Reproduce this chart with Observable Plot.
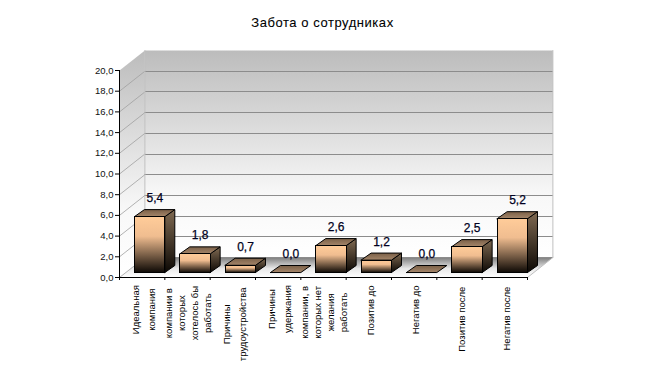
<!DOCTYPE html>
<html><head><meta charset="utf-8">
<script src="https://cdn.jsdelivr.net/npm/d3@7"></script>
<script src="https://cdn.jsdelivr.net/npm/@observablehq/plot@0.6"></script>
<style>
html,body{margin:0;padding:0;background:#fff;}
#title{height:40px;box-sizing:border-box;padding-top:15px;text-align:center;font:13px/16px "Liberation Sans",Arial,sans-serif;letter-spacing:.55px;color:#000;width:645px;-webkit-text-stroke:.08px #000;}
svg{display:block;}
</style></head><body>
<div id="title">Забота о сотрудниках</div>
<div id="chart"></div>
<script>
const categories = [
  "Идеальная\nкомпания",
  "компании в\nкоторых\nхотелось бы\nработать",
  "Причины\nтрудоустройства",
  "Причины\nудержания",
  "компании, в\nкоторых нет\nжелания\nработать",
  "Позитив до",
  "Негатив до",
  "Позитив после",
  "Негатив после"
];
const values = [5.4, 1.8, 0.7, 0.0, 2.6, 1.2, 0.0, 2.5, 5.2];
const yTicks = [0,2,4,6,8,10,12,14,16,18,20];
const fmt = v => v.toFixed(1).replace(".", ",");

// pseudo-3D depth, in scale units
const wallDX = 0.56, wallDY = 1.93;
const barDX = 0.22, barDY = 0.68, barLift = 0.48, barLeft = 0.33;
const n = categories.length, yMax = 20;

const poly = (id, pts) => [...pts, pts[0]].map(([x, y]) => ({id, x, y}));

const backWall = poly("b", [[wallDX,wallDY],[n+wallDX,wallDY],[n+wallDX,yMax+wallDY],[wallDX,yMax+wallDY]]);
const sideWall = poly("s", [[0,0],[wallDX,wallDY],[wallDX,yMax+wallDY],[0,yMax]]);
const floor = poly("f", [[0,0],[n,0],[n+wallDX,wallDY],[wallDX,wallDY]]);
const gridBack = yTicks.slice(1,-1).concat(0).flatMap(t => [{id:t,x:wallDX,y:t+wallDY},{id:t,x:n+wallDX,y:t+wallDY}]);
const gridSide = yTicks.slice(0,-1).flatMap(t => [{id:t,x:0,y:t},{id:t,x:wallDX,y:t+wallDY}]);
const edges = [
  {id:"l",x:wallDX,y:wallDY},{id:"l",x:wallDX,y:yMax+wallDY},
  {id:"r",x:n+wallDX,y:wallDY},{id:"r",x:n+wallDX,y:yMax+wallDY},
  {id:"c",x:n,y:0},{id:"c",x:n+wallDX,y:wallDY}
];

const fronts = [], sides = [], tops = [];
values.forEach((v, i) => {
  const x0 = i + barLeft, x1 = i + 1, y0 = barLift, y1 = barLift + v;
  if (v > 0) {
    fronts.push(...poly(i, [[x0,y0],[x1,y0],[x1,y1],[x0,y1]]));
    sides.push(...poly(i, [[x1,y0],[x1+barDX,y0+barDY],[x1+barDX,y1+barDY],[x1,y1]]));
  }
  tops.push(...poly(i, [[x0,y1],[x1,y1],[x1+barDX,y1+barDY],[x0+barDX,y1+barDY]]));
});

const valueLabels = values.map((v, i) => ({x: i + 0.78, y: v + barLift + barDY + 1.1, t: fmt(v)}));

// block-centred category labels, hanging below the axis
const ctx = document.createElement("canvas").getContext("2d");
const labelFont = 9.5, labelSpacing = 0.8;
ctx.font = `${labelFont}px "Liberation Sans"`;
const unitPx = 207 / yMax;
const labelRows = categories.map((c, i) => {
  const lines = c.split("\n");
  const w = Math.max(...lines.map(s => ctx.measureText(s).width + s.length * labelSpacing));
  return {x: i + 0.5, y: -(4 + w / 2) / unitPx, t: c, rows: lines.length};
});

const font = {fontFamily: '"Liberation Sans",Arial,sans-serif'};
const line = (data, o) => Plot.line(data, {x:"x", y:"y", z:"id", curve:"linear", ...o});

const plot = Plot.plot({
  width: 645, height: 337,
  marginLeft: 119, marginRight: 118, marginTop: 30, marginBottom: 100,
  style: {background: "transparent", ...font},
  x: {type: "linear", domain: [0, n], axis: null},
  y: {type: "linear", domain: [0, yMax], axis: null},
  marks: [
    line(backWall, {fill: "url(#wallGrad)", stroke: "none"}),
    line(sideWall, {fill: "url(#sideGrad)", stroke: "none"}),
    line(floor, {fill: "url(#floorGrad)", stroke: "none"}),
    line(gridBack, {stroke: "#8c8c8c", strokeWidth: 1, shapeRendering: "crispEdges"}),
    line(gridSide, {stroke: "#a0a0a0", strokeWidth: 0.8}),
    line(edges, {stroke: "#c0c0c0", strokeWidth: 1}),
    line(sides, {fill: "url(#sideBar)", stroke: "#000", strokeWidth: 1, strokeLinejoin: "miter"}),
    line(tops, {fill: "url(#topBar)", stroke: "#000", strokeWidth: 1, strokeLinejoin: "miter"}),
    line(fronts, {fill: "url(#frontBar)", stroke: "#000", strokeWidth: 1, strokeLinejoin: "miter", shapeRendering: "crispEdges"}),
    Plot.ruleX([0], {stroke: "#000", strokeWidth: 1}),
    Plot.ruleY([0], {stroke: "#000", strokeWidth: 1}),
    Plot.axisY(yTicks, {anchor: "left", label: null, tickSize: 4, tickPadding: 2, tickFormat: fmt, fontSize: 9.5, stroke: "#000", color: "#111", ...font}),
    Plot.axisX(d3.range(n + 1), {anchor: "bottom", label: null, tickSize: 3, tickFormat: () => "", stroke: "#000"}),
    Plot.text(valueLabels, {x: "x", y: "y", text: "t", fontSize: 12, fill: "#000020", stroke: "#000020", strokeWidth: 0.25, lineAnchor: "middle", ...font}),
    Plot.text(labelRows.filter(d => d.rows <= 2), {x: "x", y: "y", text: "t", rotate: -90, fontSize: labelFont, lineHeight: 1.65, textAnchor: "middle", lineAnchor: "middle", fill: "#000", style: {letterSpacing: labelSpacing + "px"}, ...font}),
    Plot.text(labelRows.filter(d => d.rows > 2), {x: "x", y: "y", text: "t", rotate: -90, fontSize: labelFont, lineHeight: 1.35, textAnchor: "middle", lineAnchor: "middle", fill: "#000", style: {letterSpacing: labelSpacing + "px"}, ...font})
  ]
});

const grads = {
  wallGrad: [["0","#bcbcbc"],["0.7","#f8f8f8"],["1","#ffffff"]],
  sideGrad: [["0","#bcbcbc"],["0.7","#f8f8f8"],["1","#ffffff"]],
  floorGrad: [["0","#7e7e7e"],["0.55","#e8e8e8"],["1","#ffffff"]],
  frontBar: [["0","#ffcc99"],["0.35","#f0bd90"],["1","#0c0804"]],
  sideBar: [["0","#806a52"],["1","#0c0804"]],
  topBar: [["0","#7a6048"],["1","#a5866a"]]
};
const defs = d3.select(plot).insert("defs", ":first-child");
Object.entries(grads).forEach(([id, stops]) => {
  const g = defs.append("linearGradient").attr("id", id).attr("x1",0).attr("y1",0).attr("x2",0).attr("y2",1);
  stops.forEach(([o, c]) => g.append("stop").attr("offset", o).attr("stop-color", c));
});
document.getElementById("chart").append(plot);
</script>
</body></html>
